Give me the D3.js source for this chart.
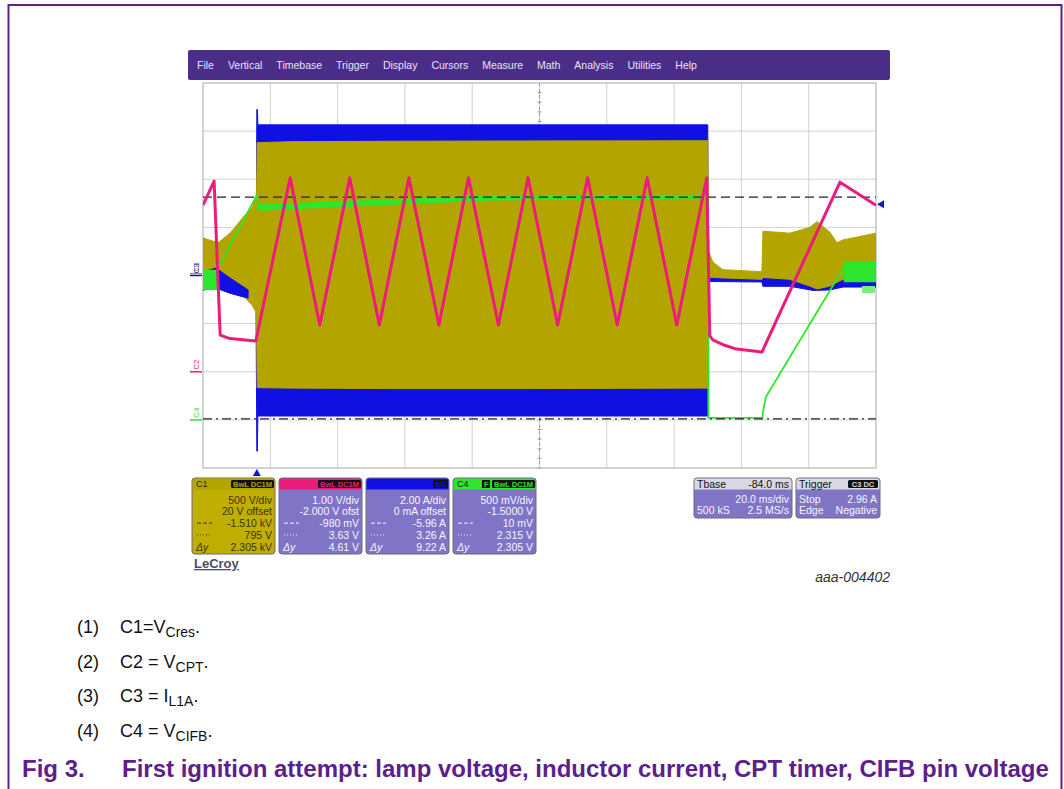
<!DOCTYPE html>
<html>
<head>
<meta charset="utf-8">
<script src="https://cdnjs.cloudflare.com/ajax/libs/d3/7.8.5/d3.min.js"></script>
<style>
body { margin: 0; background: #fff; }
svg { display: block; font-family: 'Liberation Sans', Arial, sans-serif; }
</style>
</head>
<body>
<div id="graphics"></div>
<script>
var width = 1064, height = 789;

// scope settings, time in ms
var timeRange = [-16, 184];
var channels = ['C1', 'C2', 'C3', 'C4'];
var voltsPerDiv = [500, 1, 2, 0.5];
var offsets = [20, -2, 0, -1.5];
var colC1 = '#b4a400', colC2 = '#ec1c7c', colC3 = '#1010e2', colC4 = '#2ee62e';

// C1 lamp voltage envelope [t, low, high] (V)
var c1Envelope = [
  [-16, -140, 370], [-11.5, -100, 320], [-8.0, -150, 420], [-6.5, -190, 480],
  [-3.5, -250, 610], [-1.4, -330, 690], [-0.1, -410, 800],
  [0.1, -1185, 1360], [10, -1190, 1370], [40, -1195, 1375], [80, -1195, 1378], [134.0, -1190, 1380],
  [134.3, -40, 230], [135.5, -40, 120], [138.5, -45, 40], [150.1, -60, 20],
  [150.4, -40, 440], [158.4, -60, 420], [164.3, -130, 480], [166.5, -160, 540],
  [170.3, -130, 430], [172.4, -90, 320], [174.2, -60, 350], [184, -40, 420]
];

// C2 CPT timer [t, V]
var c2Trace = [
  [-16, 3.46], [-12.7, 3.96], [-10.9, 0.76], [-8.0, 0.69], [-0.3, 0.64],
  [9.9, 4.03], [18.7, 0.97], [27.6, 4.03], [36.4, 0.97], [45.2, 4.03], [54.1, 0.97],
  [62.9, 4.03], [71.8, 0.97], [80.6, 4.03], [89.4, 0.97], [98.3, 4.03], [107.1, 0.97],
  [116.0, 4.03], [124.8, 0.97], [133.7, 4.03],
  [134.6, 0.75], [135.5, 0.66], [139, 0.55], [142.1, 0.48], [150.1, 0.41],
  [173.3, 3.94], [184, 3.46]
];

// C3 inductor current envelope [t, low, high] (A)
var c3Envelope = [
  [-16, -0.60, 0.15], [-12.1, -0.52, 0.31], [-8.0, -0.73, -0.10], [-2.6, -0.94, -0.60], [-0.25, -1.02, -0.77],
  [0.0, -7.3, 6.9], [0.15, -7.3, 6.9], [0.3, -5.84, 6.26], [134.0, -5.84, 6.26],
  [134.2, -0.25, 0.15], [150.1, -0.27, 0.12], [150.4, -0.45, 0.15], [158.4, -0.45, 0.05],
  [165.3, -0.62, -0.30], [170.3, -0.60, -0.25], [174.2, -0.48, -0.10], [184, -0.48, -0.10]
];

// C4 CIFB pin voltage [t, V]
var c4Trace = [
  [-13.0, 1.48], [0.05, 2.34], [0.35, 2.21], [20, 2.25], [59, 2.30], [100, 2.32], [134.1, 2.325],
  [134.2, 0.02], [150.2, 0.02], [150.5, 0.10], [151.3, 0.24], [174.4, 1.58]
];
var c4NoiseLeft = [[-16, 1.35, 1.56], [-11.8, 1.35, 1.56]];
var c4NoiseBurst = [[0.35, 2.17, 2.24], [30, 2.22, 2.28], [70, 2.28, 2.33], [134.1, 2.30, 2.34]];
var c4NoiseRight = [[174.4, 1.43, 1.64], [184, 1.43, 1.64]];

// cursors on C4 (V), trigger level on C3 (A)
var cursorLevels = [0.010, 2.315];
var triggerLevel = 2.96;

var menuItems = ['File', 'Vertical', 'Timebase', 'Trigger', 'Display', 'Cursors', 'Measure', 'Math', 'Analysis', 'Utilities', 'Help'];

var headerTags = ['BwL DC1M', 'BwL DC1M', 'DC', 'BwL DC1M'];
var boxScale = ['500 V/div', '1.00 V/div', '2.00 A/div', '500 mV/div'];
var boxOffset = ['20 V offset', '-2.000 V ofst', '0 mA offset', '-1.5000 V'];
var boxCursor1 = ['-1.510 kV', '-980 mV', '-5.96 A', '10 mV'];
var boxCursor2 = ['795 V', '3.63 V', '3.26 A', '2.315 V'];
var boxDelta = ['2.305 kV', '4.61 V', '9.22 A', '2.305 V'];

var tbaseRows = [['Tbase', '-84.0 ms'], ['', '20.0 ms/div'], ['500 kS', '2.5 MS/s']];
var triggerRows = [['Trigger', ''], ['Stop', '2.96 A'], ['Edge', 'Negative']];

var captionNums = ['(1)', '(2)', '(3)', '(4)'];
var captionMain = ['C1=V', 'C2 = V', 'C3 = I', 'C4 = V'];
var captionSubs = ['Cres', 'CPT', 'L1A', 'CIFB'];
var figLabel = 'Fig 3.';
var figTitle = 'First ignition attempt: lamp voltage, inductor current, CPT timer, CIFB pin voltage';

var svg = d3.select('#graphics').append('svg')
  .attr('width', width)
  .attr('height', height);

// page frame
svg.append('rect')
  .attr('x', 8.5).attr('y', 5)
  .attr('width', 1053).attr('height', 820)
  .attr('fill', 'none')
  .attr('stroke', '#5c1f8b')
  .attr('stroke-width', 2);

// menu bar
svg.append('rect')
  .attr('x', 188).attr('y', 50)
  .attr('width', 702).attr('height', 30)
  .attr('rx', 2)
  .attr('fill', '#4a2d88');
var mx = 197;
menuItems.forEach(function(m) {
  var t = svg.append('text')
    .attr('x', mx).attr('y', 69)
    .attr('fill', '#e8e4f4')
    .style('font-size', '10.5px')
    .text(m);
  mx += t.node().getComputedTextLength() + 14;
});

// plot area
var plotL = 203, plotR = 876, plotT = 83, plotB = 468;
var x = d3.scaleLinear().domain(timeRange).range([plotL, plotR]);
var yScales = channels.map(function(c, i) {
  var lo = -4 * voltsPerDiv[i] - offsets[i];
  return d3.scaleLinear().domain([lo, lo + 8 * voltsPerDiv[i]]).range([plotB, plotT]);
});
var yC1 = yScales[0], yC2 = yScales[1], yC3 = yScales[2], yC4 = yScales[3];

svg.append('rect')
  .attr('x', plotL).attr('y', plotT)
  .attr('width', plotR - plotL).attr('height', plotB - plotT)
  .attr('fill', '#fff');

var grid = svg.append('g');
var xDivs = d3.range(timeRange[0] + 20, timeRange[1], 20);
var yDivs = d3.range(-6, 7, 2);
grid.selectAll('line.v').data(xDivs).enter().append('line')
  .attr('x1', d => x(d)).attr('x2', d => x(d))
  .attr('y1', plotT).attr('y2', plotB)
  .attr('stroke', '#d2d2d2');
grid.selectAll('line.h').data(yDivs).enter().append('line')
  .attr('x1', plotL).attr('x2', plotR)
  .attr('y1', d => yC3(d)).attr('y2', d => yC3(d))
  .attr('stroke', '#d2d2d2');

// center cross with minor ticks
var cx = x(84), cy = yC3(0);
grid.append('line').attr('x1', cx).attr('x2', cx).attr('y1', plotT).attr('y2', plotB)
  .attr('stroke', '#9a9a9a').attr('stroke-dasharray', '3,3');
grid.append('line').attr('x1', plotL).attr('x2', plotR).attr('y1', cy).attr('y2', cy)
  .attr('stroke', '#9a9a9a').attr('stroke-dasharray', '3,3');
grid.selectAll('line.tx').data(d3.range(timeRange[0], timeRange[1], 4)).enter().append('line')
  .attr('x1', d => x(d)).attr('x2', d => x(d))
  .attr('y1', cy - 2).attr('y2', cy + 2)
  .attr('stroke', '#9a9a9a');
grid.selectAll('line.ty').data(d3.range(-8, 8, 0.4)).enter().append('line')
  .attr('x1', cx - 2).attr('x2', cx + 2)
  .attr('y1', d => yC3(d)).attr('y2', d => yC3(d))
  .attr('stroke', '#9a9a9a');

svg.append('rect')
  .attr('x', plotL).attr('y', plotT)
  .attr('width', plotR - plotL).attr('height', plotB - plotT)
  .attr('fill', 'none')
  .attr('stroke', '#a8a8a8');

svg.append('clipPath').attr('id', 'clip')
  .append('rect')
  .attr('x', plotL).attr('y', plotT - 4)
  .attr('width', plotR - plotL).attr('height', plotB - plotT + 8);

var traces = svg.append('g').attr('clip-path', 'url(#clip)');

function band(yS) {
  return d3.area()
    .x(d => x(d[0]))
    .y0(d => yS(d[1]))
    .y1(d => yS(d[2]));
}
function trace(yS) {
  return d3.line()
    .x(d => x(d[0]))
    .y(d => yS(d[1]));
}

// C3 current (under C1 during the burst)
traces.append('path')
  .attr('d', band(yC3)(c3Envelope))
  .attr('fill', colC3)
  .attr('stroke', colC3)
  .attr('stroke-width', 1);

// C1 lamp voltage
traces.append('path')
  .attr('d', band(yC1)(c1Envelope))
  .attr('fill', colC1)
  .attr('stroke', colC1)
  .attr('stroke-width', 1);

// pre-trigger current shows over C1
traces.append('path')
  .attr('d', band(yC3)(c3Envelope.filter(d => d[0] < -2)))
  .attr('fill', colC3)
  .attr('stroke', colC3)
  .attr('stroke-width', 1);

// C4 CIFB
[c4NoiseLeft, c4NoiseBurst, c4NoiseRight].forEach(function(b) {
  traces.append('path')
    .attr('d', band(yC4)(b))
    .attr('fill', colC4);
});
traces.append('path')
  .attr('d', trace(yC4)(c4Trace))
  .attr('fill', 'none')
  .attr('stroke', colC4)
  .attr('stroke-width', 1.8);

// cursors
traces.selectAll('line.cur').data(cursorLevels).enter().append('line')
  .attr('x1', plotL).attr('x2', plotR)
  .attr('y1', d => yC4(d)).attr('y2', d => yC4(d))
  .attr('stroke', '#222')
  .attr('stroke-width', 1.2)
  .attr('stroke-dasharray', (d, i) => i == 0 ? '9,4,2,4' : '9,5');

// C2 CPT timer
traces.append('path')
  .attr('d', trace(yC2)(c2Trace))
  .attr('fill', 'none')
  .attr('stroke', colC2)
  .attr('stroke-width', 3)
  .attr('stroke-linejoin', 'round');

// channel ground markers on the left
var chCols = [colC1, colC2, colC3, colC4];
var marks = svg.selectAll('g.mark')
  .data(channels).enter().append('g')
  .attr('transform', function(d, i) {
    return 'translate(' + [196, yScales[i](0)] + ')';
  });
marks.append('line')
  .attr('x1', -6).attr('x2', 6)
  .attr('y1', 0).attr('y2', 0)
  .attr('stroke', (d, i) => chCols[i])
  .attr('stroke-width', 1.5);
marks.append('text')
  .attr('transform', 'translate(3,-2) rotate(-90)')
  .style('font-size', '8px')
  .attr('fill', (d, i) => chCols[i])
  .text(d => d);

// trigger markers
svg.append('path')
  .attr('d', 'M' + x(0) + ',' + (plotB + 1) + 'l-4,7h8z')
  .attr('fill', colC3);
svg.append('path')
  .attr('d', 'M' + (plotR + 1) + ',' + yC3(triggerLevel) + 'l7,-4v8z')
  .attr('fill', colC3);
svg.append('rect')
  .attr('x', 862).attr('y', 286).attr('width', 13).attr('height', 7)
  .attr('fill', '#7cf07c');

// channel info boxes
var headCols = [colC1, colC2, colC3, colC4];
var rowY = [503.5, 515.3, 527.1, 538.9, 550.7];
var boxes = svg.selectAll('g.box')
  .data(channels).enter().append('g')
  .attr('transform', function(d, i) {
    return 'translate(' + [192 + i * 87, 478] + ')';
  });
boxes.append('rect')
  .attr('width', 83).attr('height', 76).attr('rx', 3)
  .attr('fill', (d, i) => i == 0 ? '#c0ae00' : '#8074c6')
  .attr('stroke', '#6a6a80');
boxes.append('path')
  .attr('d', 'M0.5,3a2.5,2.5 0 0 1 2.5,-2.5h77a2.5,2.5 0 0 1 2.5,2.5v8.5h-82z')
  .attr('fill', (d, i) => headCols[i]);
boxes.append('text')
  .attr('x', 4).attr('y', 9)
  .style('font-size', '9px')
  .attr('fill', (d, i) => i == 0 || i == 3 ? '#222' : headCols[i])
  .text(d => d);
boxes.each(function(d, i) {
  var g = d3.select(this);
  var tag = g.append('g');
  var r = tag.append('rect').attr('y', 2).attr('height', 8).attr('rx', 1.5).attr('fill', '#111');
  var t = tag.append('text')
    .attr('x', 80).attr('y', 8.6)
    .attr('text-anchor', 'end')
    .style('font-size', '7.5px')
    .style('font-weight', 'bold')
    .attr('fill', i == 3 ? colC4 : headCols[i])
    .text(headerTags[i]);
  var w = t.node().getComputedTextLength();
  r.attr('x', 80 - w - 2).attr('width', w + 4);
  if (i == 3) {
    tag.append('rect').attr('x', 80 - w - 12).attr('y', 2).attr('width', 8).attr('height', 8).attr('fill', '#111');
    tag.append('text').attr('x', 80 - w - 10).attr('y', 8.6).style('font-size', '7.5px')
      .style('font-weight', 'bold').attr('fill', colC4).text('F');
  }
  var col = i == 0 ? '#3a3300' : '#f6f6ff';
  var vals = [boxScale[i], boxOffset[i], boxCursor1[i], boxCursor2[i], boxDelta[i]];
  vals.forEach(function(v, k) {
    g.append('text')
      .attr('x', 80).attr('y', rowY[k] - 478)
      .attr('text-anchor', 'end')
      .style('font-size', '10.5px')
      .attr('fill', col)
      .text(v);
  });
  g.append('line')
    .attr('x1', 5).attr('x2', 20)
    .attr('y1', rowY[2] - 482).attr('y2', rowY[2] - 482)
    .attr('stroke', col).attr('stroke-dasharray', '4,2');
  g.append('line')
    .attr('x1', 5).attr('x2', 20)
    .attr('y1', rowY[3] - 482).attr('y2', rowY[3] - 482)
    .attr('stroke', col).attr('stroke-dasharray', '1,2');
  g.append('text')
    .attr('x', 4).attr('y', rowY[4] - 478)
    .style('font-size', '10.5px')
    .style('font-style', 'italic')
    .attr('fill', col)
    .text('\u0394y');
});

// timebase and trigger boxes
function infoBox(bx, w, rows, tag) {
  var g = svg.append('g').attr('transform', 'translate(' + [bx, 478] + ')');
  g.append('rect').attr('width', w).attr('height', 40).attr('rx', 3)
    .attr('fill', '#8074c6').attr('stroke', '#6a6a80');
  g.append('path')
    .attr('d', 'M0.5,3a2.5,2.5 0 0 1 2.5,-2.5h' + (w - 6) + 'a2.5,2.5 0 0 1 2.5,2.5v8.5h-' + (w - 1) + 'z')
    .attr('fill', '#d9d7e2');
  var ys = [9.5, 24.5, 36];
  rows.forEach(function(r, k) {
    var c = k == 0 ? '#111' : '#f6f6ff';
    g.append('text').attr('x', 3).attr('y', ys[k]).style('font-size', '10.5px').attr('fill', c).text(r[0]);
    g.append('text').attr('x', w - 3).attr('y', ys[k]).attr('text-anchor', 'end')
      .style('font-size', '10.5px').attr('fill', c).text(r[1]);
  });
  if (tag) {
    g.append('rect').attr('x', w - 32).attr('y', 2).attr('width', 30).attr('height', 8).attr('rx', 1.5).attr('fill', '#111');
    g.append('text').attr('x', w - 17).attr('y', 8.6).attr('text-anchor', 'middle')
      .style('font-size', '7.5px').style('font-weight', 'bold').attr('fill', '#d9d7e2').text(tag);
  }
}
infoBox(694, 98, tbaseRows, null);
infoBox(796, 84, triggerRows, 'C3 DC');

svg.append('text')
  .attr('x', 194).attr('y', 568)
  .style('font-size', '13px')
  .style('font-weight', 'bold')
  .style('text-decoration', 'underline')
  .attr('fill', '#4a4e6e')
  .text('LeCroy');

svg.append('text')
  .attr('x', 890).attr('y', 582)
  .attr('text-anchor', 'end')
  .style('font-size', '14px')
  .style('font-style', 'italic')
  .attr('fill', '#333')
  .text('aaa-004402');

// notes
var notes = svg.selectAll('g.note')
  .data(captionNums).enter().append('g')
  .attr('transform', function(d, i) {
    return 'translate(' + [77, 633 + i * 34.5] + ')';
  });
notes.append('text')
  .style('font-size', '18px')
  .attr('fill', '#111')
  .text(d => d);
var nt = notes.append('text')
  .attr('x', 43)
  .style('font-size', '18px')
  .attr('fill', '#111');
nt.append('tspan').text((d, i) => captionMain[i]);
nt.append('tspan').attr('dy', 4).style('font-size', '14px').text((d, i) => captionSubs[i]);
nt.append('tspan').attr('dy', -4).text('.');

svg.append('text')
  .attr('x', 22).attr('y', 777)
  .style('font-size', '24px')
  .style('font-weight', 'bold')
  .attr('fill', '#5c1f8b')
  .text(figLabel);
svg.append('text')
  .attr('x', 122).attr('y', 777)
  .style('font-size', '24px')
  .style('font-weight', 'bold')
  .attr('fill', '#5c1f8b')
  .text(figTitle);
</script>
</body>
</html>
